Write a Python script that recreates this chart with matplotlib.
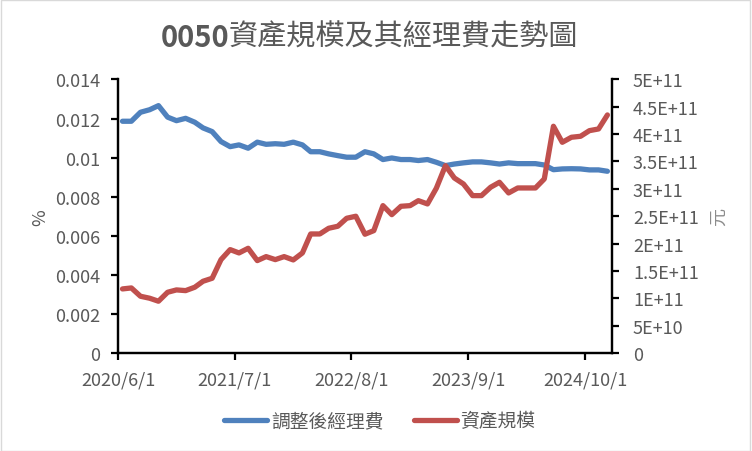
import numpy as np
import pandas as pd
import matplotlib
matplotlib.use("Agg")
import matplotlib.pyplot as plt
from matplotlib.patches import Rectangle
from matplotlib.ticker import FuncFormatter

plt.rcParams['font.family'] = ['Noto Sans CJK TC', 'DejaVu Sans']

# monthly data, 2020/6 ~ 2024/12
months = pd.date_range('2020-06-01', periods=55, freq='MS')

fee = [0.01186, 0.01186, 0.01232, 0.01245, 0.01266, 0.01207, 0.01189, 0.01201, 0.01181, 0.01152,
       0.01133, 0.01082, 0.01056, 0.01065, 0.01048, 0.01079, 0.01068, 0.01071, 0.01068, 0.01079,
       0.01065, 0.01030, 0.01030, 0.01019, 0.01010, 0.01002, 0.01002, 0.01030, 0.01019, 0.00990,
       0.00998, 0.00990, 0.00990, 0.00985, 0.00990, 0.00976, 0.00959, 0.00967, 0.00973, 0.00978,
       0.00978, 0.00973, 0.00967, 0.00973, 0.00969, 0.00969, 0.00969, 0.00962, 0.00938, 0.00942,
       0.00943, 0.00942, 0.00937, 0.00937, 0.00930]

assets = [1.170e11, 1.188e11, 1.036e11, 1.000e11, 0.945e11, 1.109e11, 1.152e11, 1.139e11, 1.201e11, 1.310e11,
          1.365e11, 1.706e11, 1.889e11, 1.828e11, 1.913e11, 1.688e11, 1.761e11, 1.706e11, 1.761e11, 1.700e11,
          1.828e11, 2.175e11, 2.175e11, 2.279e11, 2.316e11, 2.462e11, 2.499e11, 2.170e11, 2.236e11, 2.693e11,
          2.528e11, 2.681e11, 2.693e11, 2.784e11, 2.724e11, 3.011e11, 3.424e11, 3.199e11, 3.089e11, 2.876e11,
          2.876e11, 3.029e11, 3.120e11, 2.925e11, 3.016e11, 3.016e11, 3.016e11, 3.181e11, 4.144e11, 3.851e11,
          3.943e11, 3.961e11, 4.064e11, 4.095e11, 4.351e11]

tick_dates = ['2020-06-01', '2021-07-01', '2022-08-01', '2023-09-01', '2024-10-01']
tick_labels = ['2020/6/1', '2021/7/1', '2022/8/1', '2023/9/1', '2024/10/1']

grey = '#595959'
blue = '#4F81BD'
red = '#C0504D'

fig = plt.figure(figsize=(7.52, 4.52), dpi=100)
ax = fig.add_axes([0.157, 0.217, 0.657, 0.605])
ax2 = ax.twinx()

# Excel puts each month's point in the middle of its interval
x = months + pd.Timedelta(days=15)

ax.plot(x, fee, color=blue, lw=3.8, solid_capstyle='round', solid_joinstyle='round', label='調整後經理費')
ax2.plot(x, assets, color=red, lw=3.8, solid_capstyle='round', solid_joinstyle='round', label='資產規模')

ax.set_xlim(pd.Timestamp('2020-06-01'), pd.Timestamp('2025-01-01'))
ax.set_ylim(0, 0.014)
ax2.set_ylim(0, 5e11)

ax.set_xticks(pd.to_datetime(tick_dates))
ax.set_xticklabels(tick_labels)
ax.set_yticks(np.arange(0, 0.0141, 0.002))
ax.yaxis.set_major_formatter(FuncFormatter(lambda v, p: '0' if abs(v) < 1e-9 else f'{v:g}'))


def sci(v, p):
    if v == 0:
        return '0'
    e = int(np.floor(np.log10(v) + 1e-9))
    m = round(v / 10 ** e, 2)
    return f'{m:g}E+{e}'


ax2.set_yticks(np.arange(0, 5.01e11, 5e10))
ax2.yaxis.set_major_formatter(FuncFormatter(sci))

for a in (ax, ax2):
    for s in a.spines.values():
        s.set_linewidth(1.6)
        s.set_color('black')
    a.spines['top'].set_visible(False)
    a.tick_params(direction='out', length=5, width=1.6, colors='black',
                  labelcolor=grey, labelsize=13)

ax.tick_params(axis='y', pad=8)
ax.tick_params(axis='x', pad=8)
ax2.tick_params(axis='y', pad=10)

ax.set_ylabel('%', color=grey, fontsize=13, labelpad=4)
ax2.set_ylabel('元', color='#8C8C8C', fontsize=13, rotation=90, labelpad=8)

# title: bold number + regular CJK text
fig.text(0.3045, 0.916, '0050', fontsize=21, color=grey, weight='bold', ha='right', va='center')
fig.text(0.3045, 0.916, '資產規模及其經理費走勢圖', fontsize=21, color=grey, ha='left', va='center')

h1, l1 = ax.get_legend_handles_labels()
h2, l2 = ax2.get_legend_handles_labels()
fig.legend(h1 + h2, l1 + l2, loc='center', bbox_to_anchor=(0.505, 0.067), ncol=2,
           frameon=False, fontsize=13.5, labelcolor=grey, handlelength=2.3,
           handletextpad=0.2, columnspacing=1.6)

fig.patches.append(Rectangle((0.001, 0.001), 0.997, 0.997, transform=fig.transFigure,
                             fill=False, edgecolor='#D9D9D9', lw=1))

fig.savefig('out.png', dpi=100)
